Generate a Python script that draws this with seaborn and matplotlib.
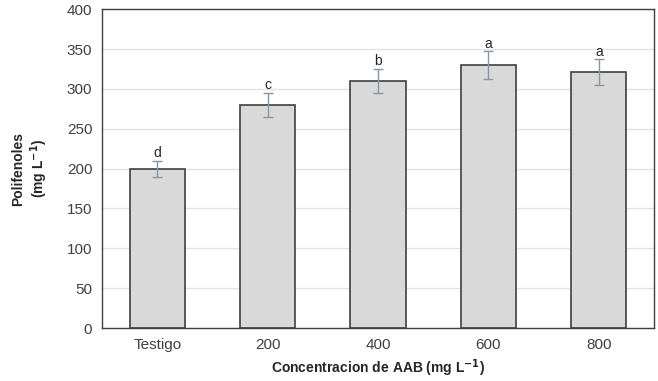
import matplotlib
matplotlib.use("Agg")
import matplotlib.pyplot as plt
import seaborn as sns
import pandas as pd

# Data
concentracion = ["Testigo", "200", "400", "600", "800"]
polifenoles = [200, 280, 310, 330, 321]
error = [10, 15, 15, 17, 16]
letras = ["d", "c", "b", "a", "a"]

df = pd.DataFrame({"conc": concentracion, "poli": polifenoles})

sns.set_style("white")
plt.rcParams['font.family'] = ['Liberation Sans', 'DejaVu Sans']

fig = plt.figure(figsize=(6.58, 3.81), dpi=100)
ax = fig.add_axes([0.155, 0.139, 0.839, 0.837])

sns.barplot(data=df, x="conc", y="poli", color="#d9d9d9", width=0.5,
            edgecolor="#404040", linewidth=1.2, saturation=1, ax=ax, zorder=2)

xs = [p.get_x() + p.get_width() / 2 for p in ax.patches]
ax.errorbar(xs, polifenoles, yerr=error, fmt="none", ecolor="#8596a6",
            elinewidth=1, capsize=3.5, capthick=1, zorder=3)
for x, y, e, l in zip(xs, polifenoles, error, letras):
    ax.text(x, y + e + 1, l, ha="center", va="bottom", fontsize=10, color="#262626")

ax.set_ylim(0, 400)
ax.set_xlim(-0.5, 4.5)
ax.set_yticks(range(0, 401, 50))
ax.yaxis.grid(True, color="#e3e3e3", linewidth=1, zorder=0)
ax.set_axisbelow(True)
for s in ax.spines.values():
    s.set_color("#404040")
    s.set_linewidth(1)

ax.tick_params(axis="both", labelsize=11, labelcolor="#404040", length=0, pad=7)
ax.set_xlabel("Concentracion de AAB (mg L$^{\\mathbf{-1}}$)", fontsize=10,
              fontweight="bold", labelpad=4)
ax.set_ylabel("Polifenoles\n(mg L$^{\\mathbf{-1}}$)", fontsize=10,
              fontweight="bold", labelpad=12)

fig.savefig("out.png", dpi=100)
